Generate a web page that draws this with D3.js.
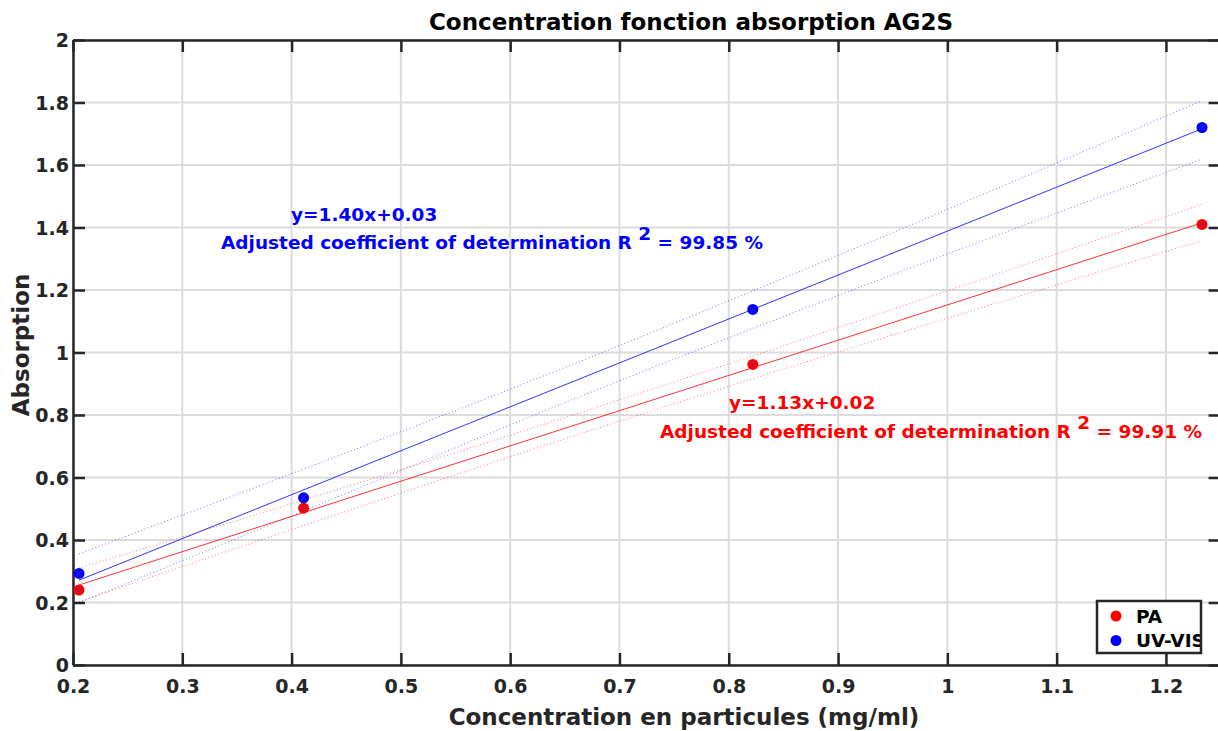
<!DOCTYPE html>
<html>
<head>
<meta charset="utf-8">
<script src="https://cdn.jsdelivr.net/npm/d3@7"></script>
<style>
  html, body { margin: 0; padding: 0; background: #fff; }
  svg { display: block; font-family: "DejaVu Sans", sans-serif; font-weight: bold; }
</style>
</head>
<body>
<svg id="chart" width="1218" height="731"></svg>
<script>
// ---- data ----
const concentration = [0.2055, 0.411, 0.822, 1.233];
const paValues = [0.240, 0.502, 0.962, 1.410];
const uvValues = [0.293, 0.535, 1.138, 1.720];

const fitX = [0.2055, 1.233];
const paFit = [0.256, 1.415];
const uvFit = [0.2715, 1.716];

const bandX = [0.2055, 0.411, 0.668, 0.822, 1.233];
const paUpper = [0.310, 0.528, 0.812, 0.989, 1.474];
const paLower = [0.203, 0.446, 0.744, 0.916, 1.358];
const uvUpper = [0.3555, 0.627, 0.977, 1.197, 1.806];
const uvLower = [0.199, 0.493, 0.865, 1.077, 1.619];

const xTicks = [0.2, 0.3, 0.4, 0.5, 0.6, 0.7, 0.8, 0.9, 1, 1.1, 1.2];
const yTicks = [0, 0.2, 0.4, 0.6, 0.8, 1, 1.2, 1.4, 1.6, 1.8, 2];

const seriesNames = ["PA", "UV-VIS"];
const titleText = "Concentration fonction absorption AG2S";
const xLabelText = "Concentration en particules (mg/ml)";
const yLabelText = "Absorption";
const uvEq = "y=1.40x+0.03";
const uvR2 = "99.85 %";
const paEq = "y=1.13x+0.02";
const paR2 = "99.91 %";

// ---- layout ----
const RED = "#ff0000", BLUE = "#0000ff", AX = "#262626", GRID = "#dcdcdc";
const mLeft = 73, mRight = 1220.6, mTop = 40, mBottom = 665;
const svg = d3.select("#chart");
const x = d3.scaleLinear().domain([0.2, 1.25]).range([mLeft, mRight]);
const y = d3.scaleLinear().domain([0, 2]).range([mBottom, mTop]);

// grid
svg.append("g").selectAll("line").data(xTicks).join("line")
  .attr("x1", d => x(d)).attr("x2", d => x(d)).attr("y1", mTop).attr("y2", mBottom)
  .attr("stroke", GRID).attr("stroke-width", 2);
svg.append("g").selectAll("line").data(yTicks).join("line")
  .attr("y1", d => y(d)).attr("y2", d => y(d)).attr("x1", mLeft).attr("x2", mRight)
  .attr("stroke", GRID).attr("stroke-width", 2);

// axes
const fs = 19;
const xAxis = svg.append("g").attr("transform", `translate(0,${mBottom})`)
  .call(d3.axisBottom(x).tickValues(xTicks).tickSizeInner(-12).tickSizeOuter(0).tickPadding(15).tickFormat(d3.format("~g")));
const xAxisTop = svg.append("g").attr("transform", `translate(0,${mTop})`)
  .call(d3.axisTop(x).tickValues(xTicks).tickSizeInner(-12).tickSizeOuter(0).tickFormat(""));
const yAxis = svg.append("g").attr("transform", `translate(${mLeft},0)`)
  .call(d3.axisLeft(y).tickValues(yTicks).tickSizeInner(-12).tickSizeOuter(0).tickPadding(4).tickFormat(d3.format("~g")));
const yAxisRight = svg.append("g").attr("transform", `translate(${mRight},0)`)
  .call(d3.axisRight(y).tickValues(yTicks).tickSizeInner(-12).tickSizeOuter(0).tickFormat(""));
[xAxis, xAxisTop, yAxis, yAxisRight].forEach(g => {
  g.select(".domain").attr("stroke", AX).attr("stroke-width", 2.5);
  g.selectAll(".tick line").attr("stroke", AX).attr("stroke-width", 2.5);
  g.selectAll("text").attr("fill", AX).attr("font-size", fs).attr("font-weight", "bold")
    .attr("font-family", "DejaVu Sans, sans-serif");
});
xAxis.selectAll("text").attr("dy", "0.71em");
yAxis.selectAll("text").attr("dy", "0.36em");

// plotting clip
svg.append("clipPath").attr("id", "plotclip").append("rect")
  .attr("x", mLeft).attr("y", mTop).attr("width", mRight - mLeft).attr("height", mBottom - mTop);
const plot = svg.append("g").attr("clip-path", "url(#plotclip)");

const lineGen = d3.line().x(d => x(d[0])).y(d => y(d[1]));
const curveGen = d3.line().x(d => x(d[0])).y(d => y(d[1])).curve(d3.curveMonotoneX);

function band(vals, color) {
  plot.append("path").attr("d", curveGen(bandX.map((v, i) => [v, vals[i]])))
    .attr("fill", "none").attr("stroke", color).attr("stroke-width", 1)
    .attr("stroke-dasharray", "1 2.5").attr("opacity", 0.55);
}
band(uvUpper, BLUE); band(uvLower, BLUE);
band(paUpper, RED); band(paLower, RED);

plot.append("path").attr("d", lineGen(fitX.map((v, i) => [v, uvFit[i]])))
  .attr("fill", "none").attr("stroke", BLUE).attr("stroke-width", 1).attr("opacity", 0.8);
plot.append("path").attr("d", lineGen(fitX.map((v, i) => [v, paFit[i]])))
  .attr("fill", "none").attr("stroke", RED).attr("stroke-width", 1).attr("opacity", 0.8);

// points
function pts(vals, color) {
  plot.append("g").selectAll("circle").data(concentration).join("circle")
    .attr("cx", d => x(d)).attr("cy", (d, i) => y(vals[i])).attr("r", 5.5).attr("fill", color);
  plot.append("g").selectAll("path").data(concentration).join("path")
    .attr("d", (d, i) => { const cx = x(d), cy = y(vals[i]), s = 2.5;
      return `M${cx - s},${cy - s}L${cx + s},${cy + s}M${cx - s},${cy + s}L${cx + s},${cy - s}`; })
    .attr("stroke", "#4040c0").attr("stroke-width", 0.8).attr("opacity", 0.8);
}
pts(paValues, RED);
pts(uvValues, BLUE);

// annotations
const afs = 18.5;
svg.append("text").attr("x", 291).attr("y", 221).attr("fill", BLUE).attr("font-size", afs).text(uvEq);
const t1 = svg.append("text").attr("x", 221).attr("y", 249).attr("fill", BLUE).attr("font-size", afs);
t1.append("tspan").text("Adjusted coefficient of determination R ");
t1.append("tspan").attr("dy", -9).text("2");
t1.append("tspan").attr("dy", 9).text(" = " + uvR2);

svg.append("text").attr("x", 729).attr("y", 409).attr("fill", RED).attr("font-size", afs).text(paEq);
const t2 = svg.append("text").attr("x", 660).attr("y", 438).attr("fill", RED).attr("font-size", afs);
t2.append("tspan").text("Adjusted coefficient of determination R ");
t2.append("tspan").attr("dy", -9).text("2");
t2.append("tspan").attr("dy", 9).text(" = " + paR2);

// title & labels
svg.append("text").attr("x", 691).attr("y", 30).attr("text-anchor", "middle")
  .attr("fill", "#000").attr("font-size", 23).text(titleText);
svg.append("text").attr("x", 684).attr("y", 725).attr("text-anchor", "middle")
  .attr("fill", AX).attr("font-size", 23).text(xLabelText);
svg.append("text").attr("transform", "translate(29,345) rotate(-90)").attr("text-anchor", "middle")
  .attr("fill", AX).attr("font-size", 23).text(yLabelText);

// legend
const lg = svg.append("g");
lg.append("clipPath").attr("id", "legclip").append("rect")
  .attr("x", 1097).attr("y", 601).attr("width", 103).attr("height", 52);
lg.append("rect").attr("x", 1097).attr("y", 601).attr("width", 104).attr("height", 52)
  .attr("fill", "#fff");
const legColors = [RED, BLUE];
const li = lg.append("g").attr("clip-path", "url(#legclip)").selectAll("g").data(seriesNames).join("g")
  .attr("transform", (d, i) => `translate(0,${616 + i * 24.5})`);
li.append("circle").attr("cx", 1116).attr("cy", 0).attr("r", 5.5).attr("fill", (d, i) => legColors[i]);
li.append("text").attr("x", 1136).attr("y", 0).attr("dy", "0.36em").attr("font-size", 18.5)
  .attr("fill", "#000").text(d => d);
lg.append("rect").attr("x", 1097).attr("y", 601).attr("width", 104).attr("height", 52)
  .attr("fill", "none").attr("stroke", AX).attr("stroke-width", 2.5);
</script>
</body>
</html>
